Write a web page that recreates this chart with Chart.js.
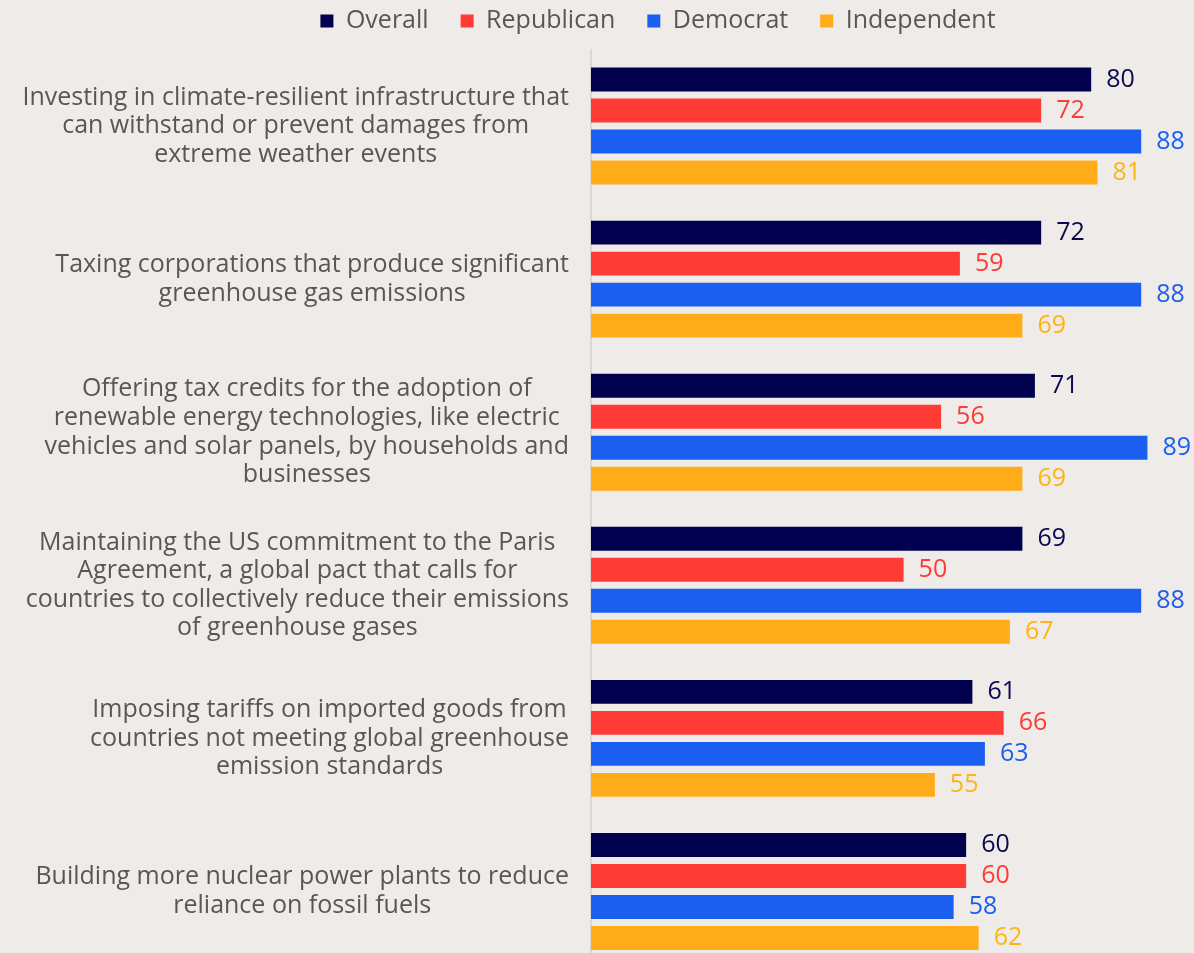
<!DOCTYPE html>
<html>
<head>
<meta charset="utf-8">
<script src="https://cdn.jsdelivr.net/npm/chart.js@4.4.1/dist/chart.umd.min.js"></script>
<style>
  html, body { margin: 0; padding: 0; background: #efebe8; }
  #wrap { width: 1194px; height: 953px; overflow: hidden; position: relative; }
  #chart { position: absolute; left: 0; top: 0; }
</style>
</head>
<body>
<div id="wrap"><canvas id="chart" width="1310" height="968"></canvas></div>
<script>
// categories, one entry per policy (split into the lines shown in the picture)
const CATEGORIES = [
  ['Investing in climate-resilient infrastructure that', 'can withstand or prevent damages from', 'extreme weather events'],
  ['Taxing corporations that produce significant', 'greenhouse gas emissions'],
  ['Offering tax credits for the adoption of', 'renewable energy technologies, like electric', 'vehicles and solar panels, by households and', 'businesses'],
  ['Maintaining the US commitment to the Paris', 'Agreement, a global pact that calls for', 'countries to collectively reduce their emissions', 'of greenhouse gases'],
  ['Imposing tariffs on imported goods from', 'countries not meeting global greenhouse', 'emission standards'],
  ['Building more nuclear power plants to reduce', 'reliance on fossil fuels'],
];

const SERIES_NAMES = ['Overall', 'Republican', 'Democrat', 'Independent'];
const OVERALL      = [80, 72, 71, 69, 61, 60];
const REPUBLICAN   = [72, 59, 56, 50, 66, 60];
const DEMOCRAT     = [88, 88, 89, 88, 63, 58];
const INDEPENDENT  = [81, 69, 69, 67, 55, 62];

const COLORS = {
  overall:     '#00004f',
  republican:  '#ff3b36',
  democrat:    '#1a5ff0',
  independent: '#ffac18',
};
const LABEL_COLORS = ['#0a0a4f', '#ff3b36', '#1a5ff0', '#ffb414'];

const FONT = '"Open Sans", Lato, sans-serif';
const TEXT_GRAY = '#575757';

// ─── value labels at the end of each bar ─────────────────────────────────────
const valueLabels = {
  id: 'valueLabels',
  afterDatasetsDraw(chart) {
    const ctx = chart.ctx;
    ctx.save();
    ctx.font = `25px ${FONT}`;
    ctx.textAlign = 'left';
    ctx.textBaseline = 'middle';
    chart.data.datasets.forEach((ds, i) => {
      const meta = chart.getDatasetMeta(i);
      ctx.fillStyle = LABEL_COLORS[i];
      meta.data.forEach((bar, j) => {
        ctx.fillText(String(ds.data[j]), bar.x + 15, bar.y);
      });
    });
    ctx.restore();
  },
};

// ─── category labels: block right-aligned, lines centred inside it ──────────
const categoryLabels = {
  id: 'categoryLabels',
  afterDraw(chart) {
    const ctx = chart.ctx;
    const yScale = chart.scales.y;
    const lineH = 28.6;
    ctx.save();
    ctx.font = `25px ${FONT}`;
    ctx.fillStyle = TEXT_GRAY;
    ctx.textAlign = 'center';
    ctx.textBaseline = 'middle';
    chart.data.labels.forEach((lines, i) => {
      const y = yScale.getPixelForTick(i);
      const widest = Math.max(...lines.map(l => ctx.measureText(l).width));
      const cx = 569 - widest / 2;
      lines.forEach((line, k) => {
        ctx.fillText(line, cx, y + (k - (lines.length - 1) / 2) * lineH);
      });
    });
    ctx.restore();
  },
};

new Chart(document.getElementById('chart'), {
  type: 'bar',
  data: {
    labels: CATEGORIES,
    datasets: [
      { label: SERIES_NAMES[0], data: OVERALL,     backgroundColor: COLORS.overall },
      { label: SERIES_NAMES[1], data: REPUBLICAN,  backgroundColor: COLORS.republican },
      { label: SERIES_NAMES[2], data: DEMOCRAT,    backgroundColor: COLORS.democrat },
      { label: SERIES_NAMES[3], data: INDEPENDENT, backgroundColor: COLORS.independent },
    ],
  },
  options: {
    indexAxis: 'y',
    responsive: false,
    animation: false,
    categoryPercentage: 0.81,
    barPercentage: 0.774,
    layout: { padding: { top: -23.5, left: 6, right: 0, bottom: 0 } },
    plugins: {
      legend: {
        position: 'top',
        align: 'center',
        labels: {
          boxWidth: 13,
          boxHeight: 13,
          padding: 32,
          color: TEXT_GRAY,
          font: { family: FONT, size: 25 },
        },
      },
      tooltip: { enabled: false },
    },
    scales: {
      // hidden value axis; placed on top only to leave the gap under the legend
      x: {
        position: 'top',
        min: 0,
        max: 115,
        grid: { display: false },
        border: { display: false },
        ticks: { display: false },
        afterFit: scale => { scale.height = 6; },
      },
      y: {
        grid: { display: false },
        border: { display: true, color: '#dad7d4', width: 2 },
        ticks: { display: false },
        afterFit: scale => { scale.width = 585; },
      },
    },
  },
  plugins: [valueLabels, categoryLabels],
});
</script>
</body>
</html>
